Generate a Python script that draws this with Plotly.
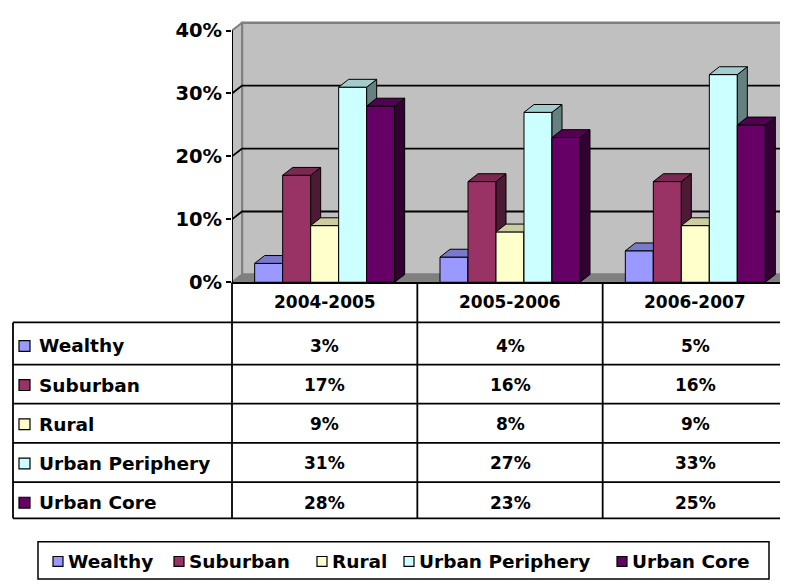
import plotly.graph_objects as go

# ---------------- data ----------------
categories = ["2004-2005", "2005-2006", "2006-2007"]
series_names = ["Wealthy", "Suburban", "Rural", "Urban Periphery", "Urban Core"]
wealthy = [3, 4, 5]
suburban = [17, 16, 16]
rural = [9, 8, 9]
urban_periphery = [31, 27, 33]
urban_core = [28, 23, 25]
y_tick_values = [0, 10, 20, 30, 40]
y_tick_labels = ["0%", "10%", "20%", "30%", "40%"]

series_values = [wealthy, suburban, rural, urban_periphery, urban_core]
colors = ["#9999FF", "#993366", "#FFFFCC", "#CCFFFF", "#660066"]

# ---------------- geometry (window pixels) ----------------
WIN_W, WIN_H = 788, 585
OFF_X, OFF_Y = 8, 0
W, H = WIN_W - OFF_X, WIN_H - OFF_Y
PLOT_L, PLOT_R = 232, 788     # px of front x-axis
Y0_PX, Y40_PX, TOP_PX = 280, 23, 12
x_range = [-0.5, len(categories) - 0.5]
px_per_x = (PLOT_R - PLOT_L) / (x_range[1] - x_range[0])
px_per_y = (Y0_PX - Y40_PX) / 40.0
y_max = (Y0_PX - TOP_PX) / px_per_y

DX = 10 / px_per_x      # 3D depth offset (data units)
DY = 8 / px_per_y
BAR_W = 28 / px_per_x
FONT = "DejaVu Sans"


def PX(p):
    return (p - OFF_X) / W


def PY(p):
    return 1 - (p - OFF_Y) / H


def shade(hex_color, f):
    r, g, b = int(hex_color[1:3], 16), int(hex_color[3:5], 16), int(hex_color[5:7], 16)
    return "rgb(%d,%d,%d)" % (round(r * f), round(g * f), round(b * f))


def poly(xs, ys, fill, line="black", lw=1):
    return go.Scatter(x=xs + [xs[0]], y=ys + [ys[0]], mode="lines", fill="toself",
                      fillcolor=fill, line=dict(color=line, width=lw),
                      hoverinfo="skip", showlegend=False)


fig = go.Figure()

x0, x1 = x_range
# back wall, left wall, floor
fig.add_trace(poly([x0 + DX, x0 + DX, x1 + DX + 1, x1 + DX + 1], [DY, 40 + DY, 40 + DY, DY],
                   "#C0C0C0", "#808080", 2.5))
fig.add_trace(poly([x0, x0, x0 + DX, x0 + DX], [0, 40, 40 + DY, DY], "#C0C0C0", "#808080", 2))
fig.add_trace(poly([x0, x1 + 1, x1 + 1 + DX, x0 + DX], [0, 0, DY, DY], "#808080", "#808080", 1))
# gridlines on walls
for v in y_tick_values[1:-1]:
    fig.add_trace(go.Scatter(x=[x0, x0 + DX, x1 + DX + 1], y=[v, v + DY, v + DY], mode="lines",
                             line=dict(color="black", width=1.8), hoverinfo="skip", showlegend=False))

# 3D bars
n = len(series_names)
for j in range(len(categories)):
    for i in range(n):
        v = series_values[i][j]
        c = j + (i - (n - 1) / 2) * BAR_W
        L, R = c - BAR_W / 2, c + BAR_W / 2
        col = colors[i]
        fig.add_trace(poly([L, L, R, R], [0, v, v, 0], col))
        fig.add_trace(poly([R, R, R + DX, R + DX], [0, v, v + DY, DY], shade(col, 0.5)))
        fig.add_trace(poly([L, R, R + DX, L + DX], [v, v, v + DY, v + DY], shade(col, 0.8)))

# y-axis line
fig.add_trace(go.Scatter(x=[x0, x0], y=[0, 40], mode="lines", line=dict(color="black", width=2),
                         cliponaxis=False, hoverinfo="skip", showlegend=False))

# ---------------- table & legend (layout) ----------------
shapes = []
annotations = []
LINE = dict(color="black", width=1.8)
TABLE_L, TABLE_R = 13, 787
HEADER_BOTTOM = 321
row_lines = [321, 364, 404, 444, 484, 521]
TABLE_BOTTOM = row_lines[-1]


def cat_px(xv):
    return PLOT_L + (xv - x0) * px_per_x


for b in range(len(categories) + 1):
    xp = min(cat_px(x0 + b), TABLE_R)
    shapes.append(dict(type="line", xref="paper", yref="paper", x0=PX(xp), x1=PX(xp),
                       y0=PY(Y0_PX), y1=PY(TABLE_BOTTOM), line=LINE))
shapes.append(dict(type="line", xref="paper", yref="paper", x0=PX(TABLE_L), x1=PX(TABLE_L),
                   y0=PY(HEADER_BOTTOM), y1=PY(TABLE_BOTTOM), line=LINE))
for yl in row_lines:
    shapes.append(dict(type="line", xref="paper", yref="paper", x0=PX(TABLE_L), x1=PX(TABLE_R),
                       y0=PY(yl), y1=PY(yl), line=LINE))

for j, cat in enumerate(categories):
    annotations.append(dict(text=cat, xref="paper", yref="paper", x=PX(cat_px(j)), y=PY(300),
                            xanchor="center", yanchor="middle", showarrow=False,
                            font=dict(family=FONT, size=17, color="black", weight="bold")))

ROW_C0, ROW_STEP = 345, 40
for i, name in enumerate(series_names):
    yc = ROW_C0 + i * ROW_STEP
    shapes.append(dict(type="rect", xref="paper", yref="paper", x0=PX(19), x1=PX(30),
                       y0=PY(yc - 5.5), y1=PY(yc + 5.5), fillcolor=colors[i],
                       line=dict(color="black", width=1.2)))
    annotations.append(dict(text=name, xref="paper", yref="paper", x=PX(37), y=PY(yc),
                            xanchor="left", yanchor="middle", showarrow=False,
                            font=dict(family=FONT, size=18.5, color="black", weight="bold")))
    for j in range(len(categories)):
        annotations.append(dict(text="%d%%" % series_values[i][j], xref="paper", yref="paper",
                                x=PX(cat_px(j)), y=PY(yc), xanchor="center", yanchor="middle",
                                showarrow=False,
                                font=dict(family=FONT, size=17, color="black", weight="bold")))

# legend
LEG_L, LEG_R, LEG_T, LEG_B = 38, 769, 545, 583
LEG_C = 565
shapes.append(dict(type="rect", xref="paper", yref="paper", x0=PX(LEG_L), x1=PX(LEG_R),
                   y0=PY(LEG_B), y1=PY(LEG_T), line=dict(color="black", width=1.5),
                   fillcolor="rgba(0,0,0,0)"))
legend_text_left = [67, 188, 331, 418, 631]
for i, name in enumerate(series_names):
    tl = legend_text_left[i]
    shapes.append(dict(type="rect", xref="paper", yref="paper", x0=PX(tl - 14), x1=PX(tl - 4),
                       y0=PY(LEG_C - 5), y1=PY(LEG_C + 5), fillcolor=colors[i],
                       line=dict(color="black", width=1.2)))
    annotations.append(dict(text=name, xref="paper", yref="paper", x=PX(tl - 1), y=PY(LEG_C),
                            xanchor="left", yanchor="middle", showarrow=False,
                            font=dict(family=FONT, size=18.5, color="black", weight="bold")))

fig.update_layout(
    width=W, height=H, autosize=False,
    margin=dict(l=0, r=0, t=0, b=0, pad=0),
    paper_bgcolor="white", plot_bgcolor="white",
    showlegend=False,
    xaxis=dict(domain=[PX(PLOT_L), PX(PLOT_R)], range=x_range, showgrid=False, zeroline=False,
               showticklabels=False, ticks="", showline=True, linecolor="black", linewidth=2,
               fixedrange=True),
    yaxis=dict(domain=[PY(Y0_PX), PY(TOP_PX)], range=[0, y_max], showgrid=False,
               zeroline=False, showline=False, ticks="outside", ticklen=5, tickwidth=1.5,
               tickcolor="black", tickvals=y_tick_values, ticktext=y_tick_labels,
               tickfont=dict(family=FONT, size=19.5, color="black", weight="bold"),
               fixedrange=True),
    shapes=shapes,
    annotations=annotations,
)

fig.write_html("out.html")
